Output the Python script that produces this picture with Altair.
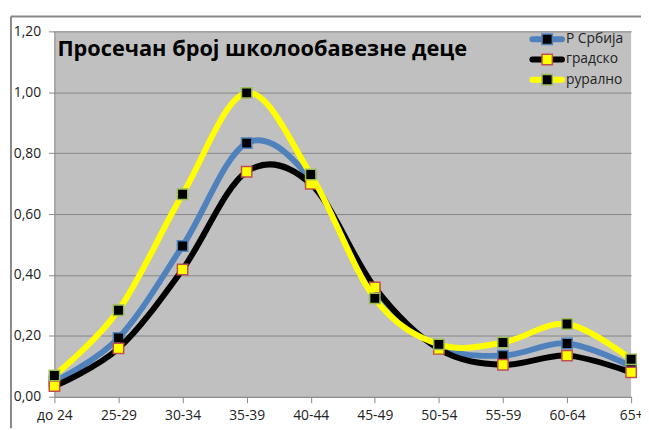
import altair as alt
import pandas as pd

categories = ["до 24", "25-29", "30-34", "35-39", "40-44", "45-49", "50-54", "55-59", "60-64", "65+"]
serbia = [0.050, 0.193, 0.495, 0.833, 0.715, 0.340, 0.165, 0.135, 0.175, 0.100]
urban = [0.035, 0.159, 0.418, 0.739, 0.699, 0.359, 0.157, 0.105, 0.135, 0.080]
rural = [0.070, 0.284, 0.665, 0.998, 0.730, 0.323, 0.172, 0.178, 0.239, 0.123]

series_names = ["Р Србија", "градско", "рурално"]
series_values = [serbia, urban, rural]
line_colors = ["#4F81BD", "#000000", "#FFFF00"]
marker_fills = ["#000000", "#FFFF00", "#000000"]
marker_strokes = ["#4F81BD", "#C0504D", "#9BBB59"]
title_text = "Просечан број школообавезне деце"

W, H = 584, 370
FONT = "Open Sans"

x_enc = alt.X("cat:O", sort=categories,
              scale=alt.Scale(type="point", padding=0),
              axis=alt.Axis(title=None, labelAngle=0, labelFontSize=14, labelFont=FONT,
                            labelColor="#222222", domainColor="#868686", tickColor="#868686",
                            tickSize=6, labelPadding=6))
y_enc = alt.Y("val:Q", scale=alt.Scale(domain=[0, 1.2], nice=False),
              axis=alt.Axis(title=None, values=[0, 0.2, 0.4, 0.6, 0.8, 1.0, 1.2],
                            labelExpr="replace(format(datum.value, '.2f'), '.', ',')",
                            labelFontSize=14, labelFont=FONT, labelColor="#222222",
                            grid=True, gridColor="#868686", gridWidth=1,
                            domainColor="#868686", tickColor="#868686", tickSize=6,
                            labelPadding=8))

layers = []
for name, vals, lc, mf, ms in zip(series_names, series_values, line_colors, marker_fills, marker_strokes):
    df = pd.DataFrame({"cat": categories, "val": vals, "series": name})
    base = alt.Chart(df)
    layers.append(base.mark_line(interpolate="cardinal", strokeWidth=6, color=lc,
                                 strokeCap="round").encode(x=x_enc, y=y_enc))
    layers.append(base.mark_point(shape="square", filled=True, size=110, fill=mf, stroke=ms,
                                  strokeWidth=1.5, opacity=1).encode(x=x_enc, y=y_enc))

one = pd.DataFrame({"a": [0]})

# chart title inside plot area
layers.append(alt.Chart(pd.DataFrame({"t": [title_text]})).mark_text(
    align="left", baseline="alphabetic", font=FONT, fontSize=22, fontWeight="bold", color="#000000"
).encode(x=alt.value(3), y=alt.value(25), text="t:N"))

# legend inside plot area
leg_y = [8, 28.5, 49]
for name, yy, lc, mf, ms in zip(series_names, leg_y, line_colors, marker_fills, marker_strokes):
    ldf = pd.DataFrame({"name": [name]})
    lb = alt.Chart(ldf)
    layers.append(lb.mark_rule(strokeWidth=6, color=lc, strokeCap="round").encode(
        x=alt.value(484), x2=alt.value(514), y=alt.value(yy)))
    layers.append(lb.mark_point(shape="square", filled=True, size=110, fill=mf, stroke=ms,
                                strokeWidth=1.5, opacity=1).encode(x=alt.value(499), y=alt.value(yy)))
    layers.append(lb.mark_text(align="left", baseline="middle", font=FONT, fontSize=14,
                               color="#222222").encode(x=alt.value(518), y=alt.value(yy), text="name:N"))

# outer chart frame
layers.append(alt.Chart(one).mark_rule(color="#878787", strokeWidth=2).encode(
    x=alt.value(-44), y=alt.value(-15), y2=alt.value(402)))
layers.append(alt.Chart(one).mark_rule(color="#878787", strokeWidth=2).encode(
    x=alt.value(-44), x2=alt.value(600), y=alt.value(-15)))

chart = alt.layer(*layers).properties(
    width=W, height=H,
    autosize=alt.AutoSizeParams(type="none"),
    padding={"left": 47, "top": 21, "right": 10, "bottom": 31},
    background="#FFFFFF",
).configure_view(fill="#C0C0C0", stroke=None)

chart.save("out.html", embed_options={"renderer": "svg", "actions": False})
